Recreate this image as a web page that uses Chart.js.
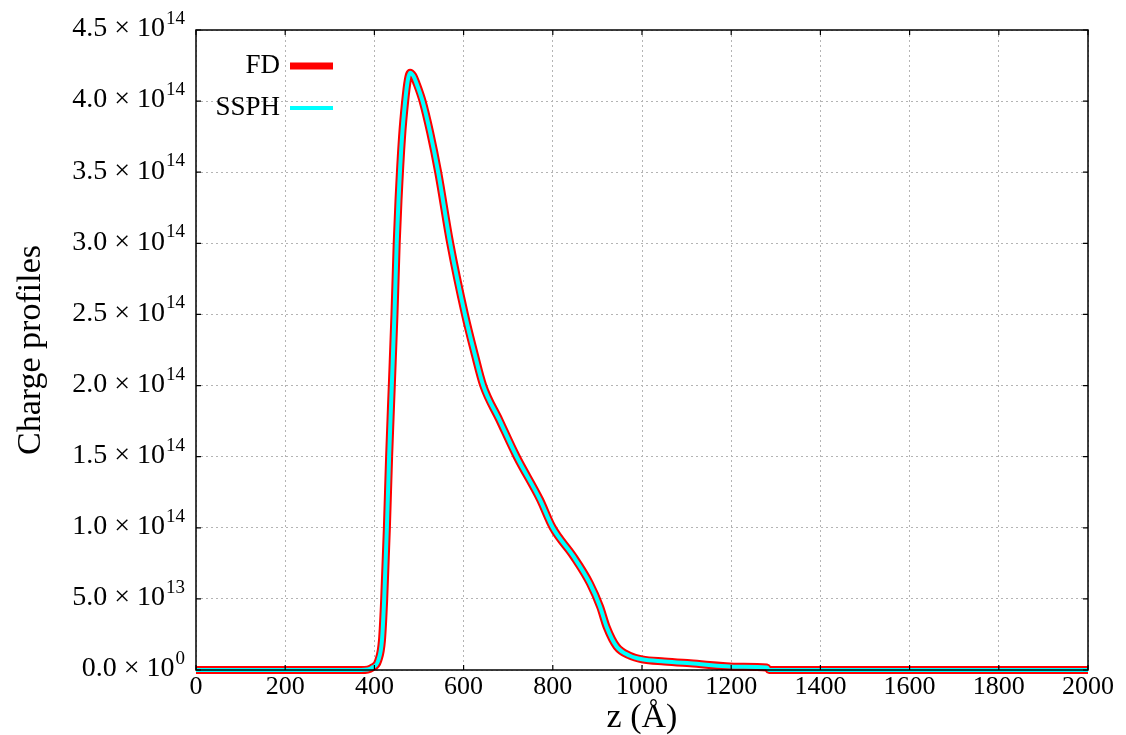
<!DOCTYPE html>
<html>
<head>
<meta charset="utf-8">
<script src="https://cdn.jsdelivr.net/npm/chart.js@4/dist/chart.umd.min.js"></script>
<style>
  html, body { margin: 0; padding: 0; background: #ffffff; }
  #wrap { width: 1126px; height: 735px; position: relative; }
</style>
</head>
<body>
<div id="wrap"><canvas id="c" width="1126" height="735"></canvas></div>
<script>
// ---- data ----
const zValues = [0, 370, 385, 394, 409, 417, 422, 428, 433, 439, 445, 450, 454, 462, 469, 475, 480, 487, 495, 508, 525, 543, 570, 603, 625, 644, 680, 719, 771, 800, 846, 883, 906, 921, 943, 973, 1000, 1050, 1108, 1220, 1280, 1285, 2000];
const fdValues = [0, 0, 0.003e14, 0.015e14, 0.07e14, 0.21e14, 0.5e14, 1.0e14, 1.5e14, 2.0e14, 2.5e14, 3.0e14, 3.3e14, 3.75e14, 4.0e14, 4.15e14, 4.2e14, 4.18e14, 4.12e14, 4.0e14, 3.78e14, 3.5e14, 3.0e14, 2.5e14, 2.22e14, 2.0e14, 1.76e14, 1.5e14, 1.2e14, 1.0e14, 0.8e14, 0.61e14, 0.445e14, 0.30e14, 0.165e14, 0.10e14, 0.075e14, 0.06e14, 0.047e14, 0.023e14, 0.018e14, 0, 0];
const ssphValues = [0, 0, 0.003e14, 0.015e14, 0.07e14, 0.21e14, 0.5e14, 1.0e14, 1.5e14, 2.0e14, 2.5e14, 3.0e14, 3.3e14, 3.75e14, 4.0e14, 4.15e14, 4.2e14, 4.18e14, 4.12e14, 4.0e14, 3.78e14, 3.5e14, 3.0e14, 2.5e14, 2.22e14, 2.0e14, 1.76e14, 1.5e14, 1.2e14, 1.0e14, 0.8e14, 0.61e14, 0.445e14, 0.30e14, 0.165e14, 0.10e14, 0.075e14, 0.06e14, 0.047e14, 0.023e14, 0.018e14, 0, 0];
const seriesLabels = ['FD', 'SSPH'];
const yTickValues = [0, 0.5e14, 1.0e14, 1.5e14, 2.0e14, 2.5e14, 3.0e14, 3.5e14, 4.0e14, 4.5e14];
const yTickMantissas = ['0.0 × 10', '5.0 × 10', '1.0 × 10', '1.5 × 10', '2.0 × 10', '2.5 × 10', '3.0 × 10', '3.5 × 10', '4.0 × 10', '4.5 × 10'];
const yTickExponents = ['0', '13', '14', '14', '14', '14', '14', '14', '14', '14'];
const xTickLabels = ['0', '200', '400', '600', '800', '1000', '1200', '1400', '1600', '1800', '2000'];

const toPoints = (xs, ys) => xs.map((x, i) => ({ x: x, y: ys[i] }));
const SERIF = '"Liberation Serif", "DejaVu Serif", serif';

// y tick labels with raised exponents
const yLabelPlugin = {
  id: 'ylabels',
  afterDraw(chart) {
    const { ctx, scales } = chart;
    const right = chart.chartArea.left - 11;
    ctx.save();
    ctx.fillStyle = '#000';
    ctx.textAlign = 'right';
    ctx.textBaseline = 'middle';
    yTickValues.forEach((v, i) => {
      const py = scales.y.getPixelForValue(v);
      ctx.font = '19px ' + SERIF;
      const ew = ctx.measureText(yTickExponents[i]).width;
      ctx.fillText(yTickExponents[i], right, py - 11);
      ctx.font = '28px ' + SERIF;
      ctx.fillText(yTickMantissas[i], right - ew - 1, py - 1);
    });
    ctx.restore();
  }
};

// frame, inward ticks and in-plot legend
const framePlugin = {
  id: 'frame',
  afterDatasetsDraw(chart) {
    const { ctx, chartArea: a, scales } = chart;
    ctx.save();
    ctx.strokeStyle = '#000';
    ctx.lineWidth = 1.5;
    ctx.strokeRect(a.left, a.top, a.right - a.left, a.bottom - a.top);
    ctx.lineWidth = 1.2;
    const tl = 5;
    scales.x.ticks.forEach(t => {
      const px = scales.x.getPixelForValue(t.value);
      ctx.beginPath();
      ctx.moveTo(px, a.bottom); ctx.lineTo(px, a.bottom - tl);
      ctx.moveTo(px, a.top); ctx.lineTo(px, a.top + tl);
      ctx.stroke();
    });
    yTickValues.forEach(v => {
      const py = scales.y.getPixelForValue(v);
      ctx.beginPath();
      ctx.moveTo(a.left, py); ctx.lineTo(a.left + tl, py);
      ctx.moveTo(a.right, py); ctx.lineTo(a.right - tl, py);
      ctx.stroke();
    });
    // legend
    const rows = [
      { ds: chart.data.datasets[0], y: a.top + 36, w: 7 },
      { ds: chart.data.datasets[1], y: a.top + 78, w: 4 }
    ];
    ctx.font = '27px ' + SERIF;
    ctx.textAlign = 'right';
    ctx.textBaseline = 'middle';
    rows.forEach(r => {
      ctx.fillStyle = '#000';
      ctx.fillText(r.ds.label, a.left + 84, r.y);
      ctx.strokeStyle = r.ds.borderColor;
      ctx.lineWidth = r.w;
      ctx.beginPath();
      ctx.moveTo(a.left + 94, r.y);
      ctx.lineTo(a.left + 137, r.y);
      ctx.stroke();
    });
    ctx.restore();
  }
};

new Chart(document.getElementById('c'), {
  type: 'line',
  data: {
    datasets: [
      {
        label: seriesLabels[0],
        data: toPoints(zValues, fdValues),
        borderColor: '#ff0000',
        borderWidth: 8,
        pointRadius: 0,
        cubicInterpolationMode: 'monotone',
        fill: false,
        clip: 10,
        order: 2
      },
      {
        label: seriesLabels[1],
        data: toPoints(zValues, ssphValues),
        borderColor: '#00ffff',
        borderWidth: 4,
        pointRadius: 0,
        cubicInterpolationMode: 'monotone',
        fill: false,
        clip: 10,
        order: 1
      }
    ]
  },
  options: {
    responsive: false,
    animation: false,
    events: [],
    layout: { padding: { top: 30, right: 38, left: 0, bottom: 0 } },
    plugins: { legend: { display: false }, tooltip: { enabled: false } },
    scales: {
      x: {
        type: 'linear',
        min: 0, max: 2000,
        afterBuildTicks: s => { s.ticks = xTickLabels.map(v => ({ value: Number(v) })); },
        afterFit: s => { s.height = 65; },
        ticks: {
          font: { family: SERIF, size: 26 },
          color: '#000',
          padding: 2,
          maxRotation: 0,
          autoSkip: false,
          callback: (v, i) => xTickLabels[i]
        },
        grid: { color: '#b4b4b4', lineWidth: 1, drawTicks: false },
        border: { display: false, dash: [2, 3] },
        title: {
          display: true,
          text: 'z (Å)',
          font: { family: SERIF, size: 34, lineHeight: 1 },
          color: '#000',
          padding: { top: 0, bottom: 0 }
        }
      },
      y: {
        type: 'linear',
        min: 0, max: 4.5e14,
        afterBuildTicks: s => { s.ticks = yTickValues.map(v => ({ value: v })); },
        afterFit: s => { s.width = 196; },
        ticks: { display: false },
        grid: { color: '#b4b4b4', lineWidth: 1, drawTicks: false },
        border: { display: false, dash: [2, 3] },
        title: {
          display: true,
          text: 'Charge profiles',
          font: { family: SERIF, size: 34, lineHeight: 1 },
          color: '#000',
          padding: { top: 14, bottom: 0 }
        }
      }
    }
  },
  plugins: [framePlugin, yLabelPlugin]
});
</script>
</body>
</html>
